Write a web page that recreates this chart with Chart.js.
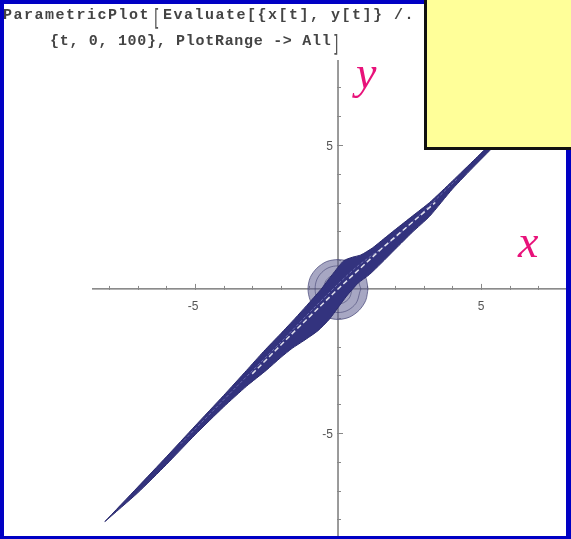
<!DOCTYPE html>
<html>
<head>
<meta charset="utf-8">
<script src="https://cdn.jsdelivr.net/npm/chart.js@4.4.1/dist/chart.umd.min.js"></script>
<style>
  html, body { margin: 0; padding: 0; background: #fff; }
  #page { position: relative; width: 571px; height: 539px; overflow: hidden; background: #fff; }
  #plot { position: absolute; left: 0; top: 0; width: 571px; height: 539px; }
  #frame { position: absolute; left: 0; top: 0; width: 571px; height: 539px; box-sizing: border-box;
           border-style: solid; border-color: #0000c4; border-width: 4px 5px 3px 4px; pointer-events: none; }
  .code { position: absolute; font-family: "Liberation Mono", monospace; font-weight: bold; font-size: 15px;
          color: #444; white-space: pre; line-height: 16px; }
  .l1 { letter-spacing: 1.5px; }
  .l2 { letter-spacing: 0.7px; }
  .brk { position: absolute; font-family: "DejaVu Sans", sans-serif; font-size: 14px; color: #555;
         line-height: 14px; transform: scaleY(1.7); }
  .axlab { position: absolute; font-family: "Liberation Serif", serif; font-style: italic; font-size: 46px;
           color: #e8127a; line-height: 46px; }
  #note { position: absolute; left: 424px; top: -3px; width: 160px; height: 153px; background: #ffff99;
          border: 3px solid #111; box-sizing: border-box; }
</style>
</head>
<body>
<div id="page">
  <div id="plot"><canvas id="chart" width="571" height="539"></canvas></div>
  <div class="code l1" style="left:3px; top:8px;">ParametricPlot</div>
  <div class="brk" style="left:154px; top:10px;">[</div>
  <div class="code l1" style="left:163px; top:8px;">Evaluate[{x[t], y[t]} /. sol],</div>
  <div class="code l2" style="left:50px; top:34px;">{t, 0, 100}, PlotRange -&gt; All</div>
  <div class="brk" style="left:333px; top:36px;">]</div>
  <div class="axlab" style="left:356px; top:50px;">y</div>
  <div class="axlab" style="left:518px; top:219px;">x</div>
  <div id="frame"></div>
  <div id="note"></div>
</div>
<script>
// axis ranges
const xMin = -8.6, xMax = 7.97;
const yMin = -8.58, yMax = 7.95;

const xTicks = [-8, -7, -6, -5, -4, -3, -2, -1, 1, 2, 3, 4, 5, 6, 7];
const yTicks = [-8, -7, -6, -5, -4, -3, -2, -1, 1, 2, 3, 4, 5, 6, 7];
const xTickLabels = [-5, 5];
const yTickLabels = [-5, 5];

// outline of the dark band (upper edge left->right, then lower edge right->left)
const bandX = [-8.15, -7.0, -6.0, -5.0, -4.0, -3.2, -2.6, -2.0, -1.5, -1.1, -0.6, -0.2, 0.2, 0.5, 0.8, 1.2, 1.6, 2.0, 2.6, 3.2, 4.0, 4.8, 5.6, 6.5, 7.3,
               7.6,
               7.3, 6.5, 5.6, 4.8, 4.0, 3.2, 2.6, 2.0, 1.5, 1.1, 0.7, 0.3, 0.0, -0.3, -0.7, -1.2, -1.6, -2.0, -2.5, -3.2, -4.0, -5.0, -6.0, -7.0, -8.15];
const bandY = [-8.08, -6.88, -5.83, -4.76, -3.7, -2.83, -2.17, -1.55, -1.02, -0.58, -0.02, 0.5, 0.98, 1.1, 1.18, 1.42, 1.74, 2.06, 2.53, 3.0, 3.75, 4.52, 5.3, 6.17, 6.97,
               7.25,
               6.88, 6.02, 5.1, 4.3, 3.47, 2.52, 1.97, 1.38, 0.88, 0.5, 0.2, -0.25, -0.65, -1.05, -1.45, -1.8, -2.06, -2.38, -2.82, -3.38, -4.1, -5.07, -6.1, -7.08, -8.08];

// the light round blob around the origin
const blobX = [1.05, 0.97, 0.74, 0.4, 0.0, -0.4, -0.74, -0.97, -1.05, -0.97, -0.74, -0.4, 0.0, 0.4, 0.74, 0.97, 1.05];
const blobY = [0.0, 0.4, 0.72, 0.95, 1.02, 0.95, 0.72, 0.4, 0.0, -0.4, -0.74, -0.98, -1.06, -0.98, -0.74, -0.4, 0.0];

const ringX = [0.8, 0.57, 0.0, -0.57, -0.8, -0.57, 0.0, 0.57, 0.8];
const ringY = [0.0, 0.57, 0.8, 0.57, 0.0, -0.57, -0.82, -0.57, 0.0];
const ring2X = [0.5, 0.36, 0.0, -0.36, -0.5, -0.36, 0.0, 0.36, 0.5];
const ring2Y = [0.0, 0.36, 0.5, 0.36, 0.0, -0.36, -0.52, -0.36, 0.0];

// white gap running along the middle of the band
const centerX = [-3.0, -1.5, 0.0, 1.5, 3.4];
const centerY = [-2.95, -1.45, 0.0, 1.38, 3.0];

// faint lighter streak inside the band
const streakX = [-5.5, -3.5, -2.0, -0.8, 0.6, 2.0, 4.2];
const streakY = [-5.38, -3.35, -1.85, -0.62, 0.72, 1.78, 3.85];

function pts(xs, ys) { return xs.map((v, i) => ({ x: v, y: ys[i] })); }

const axesPlugin = {
  id: 'mathAxes',
  beforeDatasetsDraw(chart) {
    const { ctx, chartArea: a, scales: { x, y } } = chart;
    const x0 = x.getPixelForValue(0);
    const y0 = y.getPixelForValue(0);
    ctx.save();
    ctx.strokeStyle = '#666';
    ctx.lineWidth = 1.3;
    ctx.beginPath();
    ctx.moveTo(a.left, y0); ctx.lineTo(a.right, y0);
    ctx.moveTo(x0, a.top); ctx.lineTo(x0, a.bottom);
    ctx.stroke();

    ctx.lineWidth = 1;
    ctx.strokeStyle = '#888';
    ctx.beginPath();
    for (const t of xTicks) {
      const px = Math.round(x.getPixelForValue(t)) + 0.5;
      const big = xTickLabels.includes(t);
      ctx.moveTo(px, y0 - (big ? 5 : 3)); ctx.lineTo(px, y0 + 1);
    }
    for (const t of yTicks) {
      const py = Math.round(y.getPixelForValue(t)) + 0.5;
      const big = yTickLabels.includes(t);
      ctx.moveTo(x0 - 1, py); ctx.lineTo(x0 + (big ? 5 : 3), py);
    }
    ctx.stroke();

    ctx.fillStyle = '#555';
    ctx.font = '12px "Liberation Sans", sans-serif';
    ctx.textBaseline = 'middle';
    ctx.textAlign = 'center';
    for (const t of xTickLabels) {
      ctx.fillText(String(t), x.getPixelForValue(t) - (t < 0 ? 2 : 0), y0 + 18);
    }
    ctx.textAlign = 'right';
    for (const t of yTickLabels) {
      ctx.fillText(String(t), x0 - 5, y.getPixelForValue(t) + 2);
    }
    ctx.restore();
  }
};

new Chart(document.getElementById('chart'), {
  type: 'scatter',
  data: {
    datasets: [
      {
        label: 'center',
        data: pts(centerX, centerY),
        showLine: true,
        borderColor: 'rgba(255,255,255,0.85)',
        borderWidth: 1.5,
        borderDash: [5, 3],
        pointRadius: 0,
        order: 1
      },
      {
        label: 'streak',
        data: pts(streakX, streakY),
        showLine: true,
        borderColor: 'rgba(150,150,210,0.55)',
        borderWidth: 1,
        borderDash: [3, 2],
        pointRadius: 0,
        tension: 0.3,
        order: 2
      },
      {
        label: 'band',
        data: pts(bandX, bandY),
        showLine: true,
        fill: 'shape',
        backgroundColor: '#33337e',
        borderColor: '#2a2a6e',
        borderWidth: 1,
        pointRadius: 0,
        tension: 0.2,
        order: 3
      },
      {
        label: 'ring',
        data: pts(ringX, ringY),
        showLine: true,
        borderColor: 'rgba(60,60,110,0.55)',
        borderWidth: 1,
        pointRadius: 0,
        tension: 0.4,
        order: 4
      },
      {
        label: 'ring2',
        data: pts(ring2X, ring2Y),
        showLine: true,
        borderColor: 'rgba(60,60,110,0.55)',
        borderWidth: 1,
        pointRadius: 0,
        tension: 0.4,
        order: 5
      },
      {
        label: 'blob',
        data: pts(blobX, blobY),
        showLine: true,
        fill: 'shape',
        backgroundColor: 'rgba(95,95,145,0.55)',
        borderColor: 'rgba(70,70,120,0.7)',
        borderWidth: 1,
        pointRadius: 0,
        tension: 0.3,
        order: 6
      }
    ]
  },
  options: {
    responsive: false,
    animation: false,
    layout: { padding: { left: 92, right: 5, top: 60, bottom: 3 } },
    plugins: { legend: { display: false }, tooltip: { enabled: false } },
    scales: {
      x: { type: 'linear', min: xMin, max: xMax, display: false },
      y: { type: 'linear', min: yMin, max: yMax, display: false }
    }
  },
  plugins: [axesPlugin]
});
</script>
</body>
</html>
